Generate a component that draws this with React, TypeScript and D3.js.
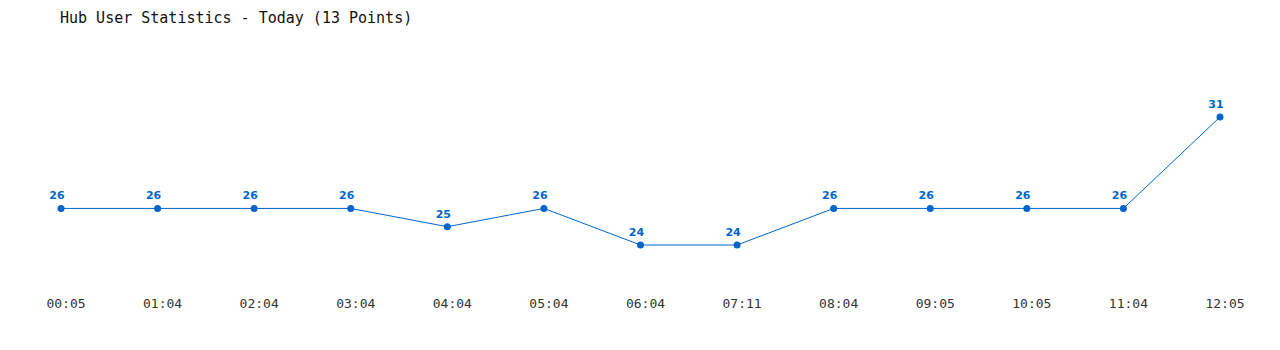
import React from "react";
import * as d3 from "d3";

const times = ["00:05","01:04","02:04","03:04","04:04","05:04","06:04","07:11","08:04","09:05","10:05","11:04","12:05"];
const users = [26,26,26,26,25,26,24,24,26,26,26,26,31];
const title = "Hub User Statistics - Today (13 Points)";

export default function App() {
  const W = 1280, H = 350;
  const x = d3.scalePoint<string>().domain(times).range([61, 1220]);
  const y = d3.scaleLinear().domain([24, 31]).range([245, 117]);
  const line = d3.line<number>().x((_, i) => x(times[i])!).y(d => y(d));
  const color = "#0066cc";
  return (
    <svg width={W} height={H} style={{ position: "absolute", left: 0, top: 0, background: "#fff" }}>
      <text x={60} y={23} fontFamily="'DejaVu Sans Mono', monospace" fontSize={15} fill="#111">{title}</text>
      <path d={line(users)!} fill="none" stroke={color} strokeWidth={1} />
      {users.map((v, i) => (
        <g key={i}>
          <circle cx={x(times[i])} cy={y(v)} r={3.5} fill={color} />
          <text x={x(times[i])! - 4} y={y(v) - 9} textAnchor="middle" fontFamily="'DejaVu Sans', sans-serif" fontWeight="bold" fontSize={11} fill={color}>{v}</text>
        </g>
      ))}
      {times.map((t, i) => (
        <text key={t} x={x(t)! + 5} y={308} textAnchor="middle" fontFamily="'DejaVu Sans Mono', monospace" fontSize={13} fill="#333">{t}</text>
      ))}
    </svg>
  );
}
